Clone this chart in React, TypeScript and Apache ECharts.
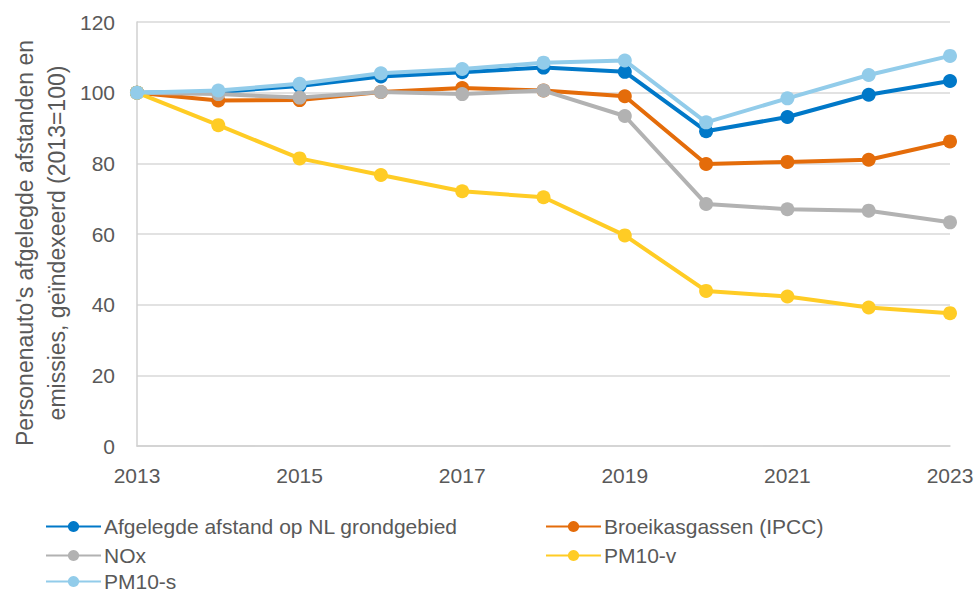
import React, { useEffect, useRef } from "react";
import * as echarts from "echarts";

const years = ["2013", "2014", "2015", "2016", "2017", "2018", "2019", "2020", "2021", "2022", "2023"];
const afstand = [100, 100.2, 101.9, 104.6, 105.8, 107.1, 105.9, 89.1, 93.1, 99.4, 103.3];
const broeikas = [100, 97.8, 97.9, 100.2, 101.3, 100.6, 99.0, 79.8, 80.4, 81.0, 86.2];
const nox = [100, 99.6, 98.6, 100.2, 99.6, 100.6, 93.4, 68.5, 67.0, 66.6, 63.3];
const pm10v = [100, 90.8, 81.4, 76.7, 72.1, 70.4, 59.6, 43.9, 42.3, 39.2, 37.6];
const pm10s = [100, 100.6, 102.5, 105.5, 106.7, 108.5, 109.1, 91.6, 98.4, 105.0, 110.4];

const seriesNames = [
  "Afgelegde afstand op NL grondgebied",
  "Broeikasgassen (IPCC)",
  "NOx",
  "PM10-v",
  "PM10-s",
];
const yAxisTitle = "Personenauto's afgelegde afstanden en\nemissies, geïndexeerd (2013=100)";
const colors = ["#0078C8", "#E46C0A", "#B2B2B2", "#FFCC25", "#92CCEA"];
const yTicks = { min: 0, max: 120, interval: 20 };

export default function App() {
  const ref = useRef<HTMLDivElement>(null);
  useEffect(() => {
    if (!ref.current) return;
    const chart = echarts.init(ref.current, undefined, { renderer: "svg" });
    const font = "'Liberation Sans', Arial, sans-serif";
    const dataSets = [afstand, broeikas, nox, pm10v, pm10s];
    const legendPos = [
      { left: 45, top: 516 },
      { left: 545, top: 516 },
      { left: 45, top: 545 },
      { left: 545, top: 545 },
      { left: 45, top: 571 },
    ];
    const legends = seriesNames.map((n, i) => ({
      ...legendPos[i],
      data: [n],
      padding: 0,
      itemWidth: 55,
      itemHeight: 14,
      itemGap: 4,
      textStyle: { fontFamily: font, fontSize: 21, color: "#595959", padding: [0, 0, 0, -2] },
    }));
    chart.setOption({
      animation: false,
      backgroundColor: "#ffffff",
      color: colors,
      grid: { left: 137, right: 28, top: 22, bottom: 146, containLabel: false, outerBoundsMode: "none" },
      legend: legends,
      graphic: [
        {
          type: "text",
          x: 41,
          y: 243,
          rotation: Math.PI / 2,
          style: {
            text: yAxisTitle,
            fontFamily: font,
            fontSize: 23,
            lineHeight: 32,
            fill: "#595959",
            align: "center",
            verticalAlign: "middle",
          },
        },
      ],
      xAxis: {
        type: "category",
        data: years,
        boundaryGap: false,
        axisLine: { show: true, lineStyle: { color: "#D0D0D0", width: 1.5 } },
        axisTick: { show: false },
        axisLabel: {
          interval: 1,
          margin: 19,
          fontFamily: font,
          fontSize: 21,
          color: "#595959",
        },
        splitLine: { show: false },
      },
      yAxis: {
        type: "value",
        min: yTicks.min,
        max: yTicks.max,
        interval: yTicks.interval,
        axisLine: { show: true, lineStyle: { color: "#D0D0D0", width: 1.5 } },
        axisTick: { show: false },
        axisLabel: { margin: 22, fontFamily: font, fontSize: 21, color: "#595959" },
        splitLine: { show: true, lineStyle: { color: "#D9D9D9", width: 1.5 } },
      },
      series: seriesNames.map((name, i) => ({
        name,
        type: "line",
        data: dataSets[i],
        symbol: "circle",
        symbolSize: 14,
        showSymbol: true,
        lineStyle: { width: 4, color: colors[i] },
        itemStyle: { color: colors[i] },
        z: 2 + i,
      })),
    });
    return () => chart.dispose();
  }, []);
  return <div ref={ref} style={{ width: 978, height: 592, position: "absolute", left: 0, top: 0 }} />;
}
